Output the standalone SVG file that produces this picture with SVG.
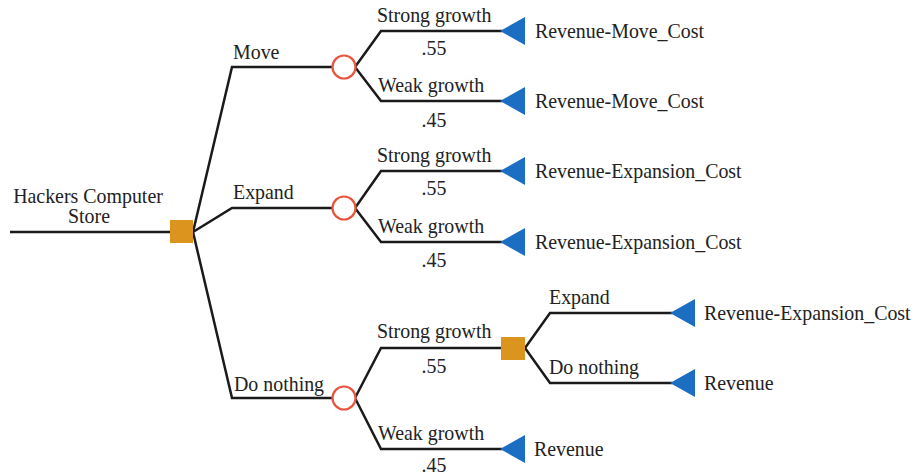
<svg xmlns="http://www.w3.org/2000/svg" width="915" height="476" viewBox="0 0 915 476">
<style>
text{font-family:"Liberation Serif","Times New Roman",serif;font-size:19.9px;fill:#222}
.p{text-anchor:middle}
.l{fill:none;stroke:#1a1a1a;stroke-width:2.5;stroke-linejoin:miter}
.dec{fill:#DB951F}
.ch{fill:#fff;stroke:#E8553E;stroke-width:2.2}
.end{fill:#1B6EC2}
</style>
<rect width="915" height="476" fill="#fff"/>
<g id="connectors">
<path class="l" d="M10 232H171"/>
<path class="l" d="M193 232L232 67H333"/>
<path class="l" d="M193 232L232 208H333"/>
<path class="l" d="M193 232L232 398H333"/>
<path class="l" d="M355 67L381 31H502"/>
<path class="l" d="M355 67L381 101H502"/>
<path class="l" d="M355 208L381 171H502"/>
<path class="l" d="M355 208L381 242H502"/>
<path class="l" d="M355 398L381 348H502"/>
<path class="l" d="M355 398L381 449H502"/>
<path class="l" d="M525 348L550 313H672"/>
<path class="l" d="M525 348L550 383H672"/>
<text x="233" y="59">Move</text>
<text x="233" y="199">Expand</text>
<text x="234" y="391">Do nothing</text>
<text x="377" y="22">Strong growth</text>
<text class="p" x="434" y="55">.55</text>
<text x="378" y="92">Weak growth</text>
<text class="p" x="434" y="127">.45</text>
<text x="377" y="162">Strong growth</text>
<text class="p" x="434" y="195">.55</text>
<text x="378" y="233">Weak growth</text>
<text class="p" x="434" y="267">.45</text>
<text x="377" y="338">Strong growth</text>
<text class="p" x="434" y="373">.55</text>
<text x="378" y="440">Weak growth</text>
<text class="p" x="434" y="472">.45</text>
<text x="549" y="304">Expand</text>
<text x="549" y="374">Do nothing</text>
</g>
<g id="root">
<text class="p" x="88" y="203">Hackers Computer</text>
<text class="p" x="89" y="223">Store</text>
<rect class="dec" x="170" y="220" width="23" height="23"/>
</g>
<g id="chance-move"><circle class="ch" cx="344" cy="67" r="11.5"/></g>
<g id="chance-expand"><circle class="ch" cx="344" cy="208" r="11.5"/></g>
<g id="chance-nothing"><circle class="ch" cx="344" cy="398" r="11.5"/></g>
<g id="decision-2"><rect class="dec" x="501" y="337" width="24" height="23"/></g>
<g id="end-1"><polygon class="end" points="500,31 525,17 525,45"/><text x="535" y="38">Revenue-Move_Cost</text></g>
<g id="end-2"><polygon class="end" points="500,101 525,87 525,115"/><text x="535" y="108">Revenue-Move_Cost</text></g>
<g id="end-3"><polygon class="end" points="500,171 525,157 525,185"/><text x="535" y="178">Revenue-Expansion_Cost</text></g>
<g id="end-4"><polygon class="end" points="500,242 525,228 525,256"/><text x="535" y="249">Revenue-Expansion_Cost</text></g>
<g id="end-5"><polygon class="end" points="670,313 695,299 695,327"/><text x="704" y="320">Revenue-Expansion_Cost</text></g>
<g id="end-6"><polygon class="end" points="670,383 695,369 695,397"/><text x="704" y="390">Revenue</text></g>
<g id="end-7"><polygon class="end" points="500,449 525,435 525,463"/><text x="534" y="456">Revenue</text></g>
</svg>
